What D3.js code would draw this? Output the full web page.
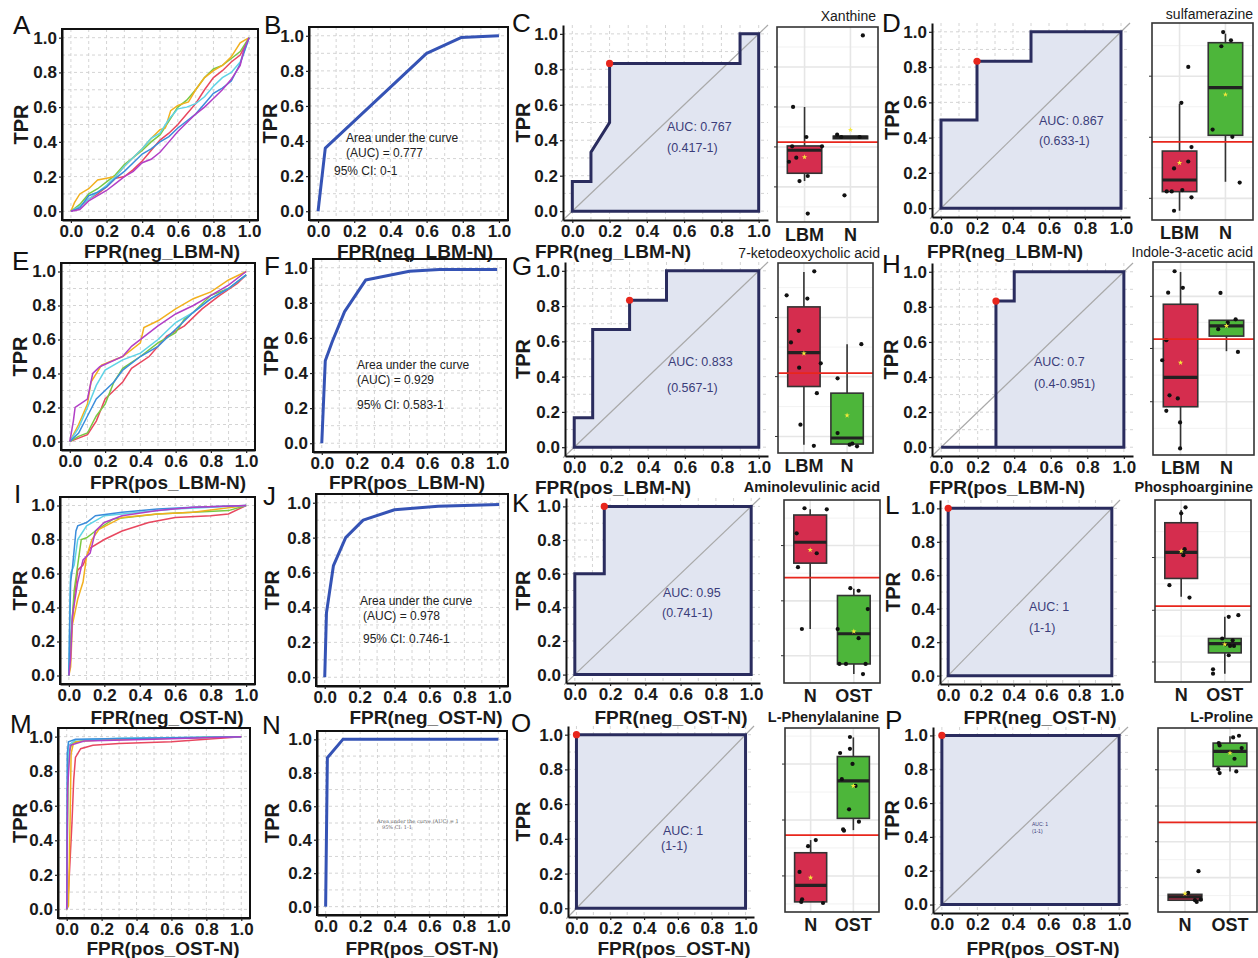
<!DOCTYPE html>
<html>
<head>
<meta charset="utf-8">
<script src="https://cdn.jsdelivr.net/npm/d3@7"></script>
<style>
  body { margin: 0; background: #fff; }
  svg { display: block; font-family: "Liberation Sans", Arial, Helvetica, sans-serif; }
</style>
</head>
<body>
<svg width="1258" height="958"></svg>
<script>
/* ----------------------------------------------------------
data
---------------------------------------------------------- */

var fprTicks = [0, 0.2, 0.4, 0.6, 0.8, 1.0];
var tprTicks = [0, 0.2, 0.4, 0.6, 0.8, 1.0];
var gridVals = [0, 0.1, 0.2, 0.3, 0.4, 0.5, 0.6, 0.7, 0.8, 0.9, 1.0];

// multi-model ROC curves, order: red, green, yellow, cyan, blue, purple
var curvesA = [
  [[0,0],[0.04,0.02],[0.1,0.07],[0.15,0.1],[0.2,0.14],[0.25,0.19],[0.3,0.2],[0.35,0.24],[0.4,0.29],[0.45,0.35],[0.5,0.41],[0.55,0.45],[0.6,0.5],[0.65,0.56],[0.7,0.62],[0.75,0.7],[0.8,0.77],[0.85,0.81],[0.9,0.86],[0.95,0.9],[1,1]],
  [[0,0],[0.05,0.04],[0.1,0.1],[0.15,0.13],[0.2,0.17],[0.25,0.21],[0.3,0.27],[0.35,0.31],[0.4,0.35],[0.45,0.4],[0.5,0.44],[0.55,0.52],[0.6,0.6],[0.65,0.64],[0.7,0.7],[0.75,0.77],[0.8,0.82],[0.85,0.84],[0.9,0.88],[0.95,0.92],[1,1]],
  [[0,0],[0.02,0.05],[0.05,0.1],[0.1,0.13],[0.15,0.18],[0.25,0.2],[0.3,0.26],[0.35,0.31],[0.4,0.36],[0.45,0.42],[0.5,0.47],[0.53,0.48],[0.56,0.58],[0.6,0.61],[0.66,0.63],[0.7,0.7],[0.75,0.77],[0.8,0.81],[0.85,0.84],[0.9,0.89],[0.95,0.97],[1,1]],
  [[0,0],[0.05,0.03],[0.1,0.07],[0.15,0.11],[0.2,0.15],[0.25,0.2],[0.3,0.26],[0.35,0.31],[0.4,0.36],[0.45,0.42],[0.5,0.45],[0.55,0.53],[0.6,0.59],[0.65,0.6],[0.7,0.62],[0.75,0.66],[0.8,0.72],[0.85,0.77],[0.9,0.8],[0.95,0.86],[1,1]],
  [[0,0],[0.05,0.02],[0.1,0.09],[0.15,0.11],[0.2,0.14],[0.25,0.19],[0.3,0.23],[0.35,0.28],[0.4,0.33],[0.45,0.36],[0.5,0.4],[0.55,0.43],[0.6,0.48],[0.65,0.52],[0.7,0.56],[0.75,0.62],[0.8,0.68],[0.85,0.71],[0.9,0.75],[0.95,0.85],[1,1]],
  [[0,0],[0.05,0.01],[0.1,0.06],[0.15,0.09],[0.2,0.12],[0.25,0.16],[0.3,0.2],[0.35,0.23],[0.4,0.28],[0.45,0.3],[0.5,0.34],[0.55,0.4],[0.6,0.46],[0.65,0.51],[0.7,0.56],[0.75,0.6],[0.8,0.65],[0.85,0.7],[0.9,0.76],[0.95,0.84],[0.97,0.93],[1,1]]
];
var curvesE = [
  [[0,0],[0.05,0.02],[0.1,0.04],[0.15,0.12],[0.2,0.25],[0.25,0.3],[0.3,0.35],[0.35,0.43],[0.45,0.5],[0.55,0.62],[0.65,0.68],[0.75,0.78],[0.85,0.86],[0.95,0.93],[1,0.98]],
  [[0,0],[0.05,0.03],[0.1,0.05],[0.15,0.15],[0.2,0.22],[0.25,0.35],[0.3,0.43],[0.4,0.5],[0.5,0.58],[0.6,0.64],[0.65,0.72],[0.7,0.76],[0.8,0.86],[0.9,0.9],[1,0.98]],
  [[0,0],[0.05,0.1],[0.1,0.22],[0.12,0.35],[0.18,0.45],[0.3,0.5],[0.4,0.58],[0.42,0.67],[0.5,0.71],[0.6,0.78],[0.7,0.84],[0.8,0.88],[0.9,0.95],[1,1]],
  [[0,0],[0.05,0.08],[0.1,0.2],[0.15,0.33],[0.2,0.42],[0.3,0.48],[0.4,0.52],[0.5,0.6],[0.6,0.7],[0.7,0.76],[0.8,0.84],[0.9,0.9],[1,0.98]],
  [[0,0],[0.05,0.05],[0.1,0.15],[0.15,0.25],[0.2,0.3],[0.25,0.35],[0.3,0.42],[0.4,0.5],[0.5,0.56],[0.6,0.66],[0.7,0.76],[0.8,0.84],[0.9,0.9],[1,0.98]],
  [[0,0],[0.02,0.12],[0.03,0.2],[0.1,0.25],[0.13,0.4],[0.17,0.44],[0.3,0.5],[0.35,0.56],[0.5,0.68],[0.6,0.75],[0.7,0.8],[0.8,0.86],[0.9,0.92],[1,1]]
];
var curvesI = [
  [[0,0],[0.01,0.2],[0.03,0.45],[0.05,0.62],[0.08,0.65],[0.12,0.75],[0.2,0.8],[0.3,0.85],[0.45,0.9],[0.6,0.93],[0.8,0.94],[0.9,0.95],[1,1]],
  [[0,0],[0.01,0.2],[0.03,0.5],[0.05,0.65],[0.07,0.8],[0.1,0.81],[0.15,0.85],[0.25,0.92],[0.5,0.95],[0.7,0.96],[0.9,0.97],[1,1]],
  [[0,0],[0.01,0.05],[0.02,0.3],[0.05,0.45],[0.08,0.55],[0.1,0.7],[0.13,0.8],[0.17,0.86],[0.3,0.93],[0.5,0.95],[0.7,0.96],[1,1]],
  [[0,0],[0.005,0.4],[0.01,0.6],[0.03,0.65],[0.05,0.8],[0.1,0.88],[0.2,0.94],[0.4,0.96],[0.6,0.98],[1,1]],
  [[0,0],[0.005,0.3],[0.01,0.55],[0.02,0.63],[0.04,0.85],[0.05,0.88],[0.1,0.9],[0.15,0.94],[0.3,0.96],[0.5,0.98],[0.7,0.99],[1,1]],
  [[0,0],[0.01,0.1],[0.02,0.35],[0.05,0.55],[0.08,0.68],[0.12,0.72],[0.15,0.85],[0.2,0.9],[0.3,0.94],[0.5,0.97],[0.7,0.99],[1,1]]
];
var curvesM = [
  [[0,0],[0.01,0.1],[0.02,0.3],[0.03,0.5],[0.04,0.75],[0.05,0.88],[0.08,0.93],[0.15,0.95],[0.3,0.96],[0.6,0.97],[1,1]],
  [[0,0],[0.005,0.5],[0.01,0.9],[0.03,0.96],[0.1,0.98],[0.3,0.985],[1,1]],
  [[0,0],[0.01,0.02],[0.02,0.55],[0.025,0.9],[0.04,0.97],[0.2,0.98],[0.6,0.99],[1,1]],
  [[0,0],[0.005,0.8],[0.01,0.95],[0.05,0.98],[0.3,0.99],[1,1]],
  [[0,0],[0.003,0.9],[0.01,0.97],[0.05,0.985],[1,1]],
  [[0,0],[0.005,0.7],[0.02,0.95],[0.1,0.975],[0.5,0.985],[1,1]]
];

// combined model ROC
var combB = [[0,0],[0.04,0.36],[0.6,0.9],[0.79,0.99],[1,1]];
var combF = [[0,0],[0.02,0.47],[0.06,0.58],[0.13,0.75],[0.25,0.93],[0.5,0.98],[0.67,0.99],[1,0.99]];
var combJ = [[0,0],[0.01,0.37],[0.05,0.64],[0.12,0.8],[0.22,0.9],[0.4,0.96],[0.65,0.98],[1,0.99]];
var combN = [[0,0],[0.01,0.89],[0.1,1],[1,1]];

// single-metabolite ROC steps, best threshold, AUC text
var stepC = [[0,0],[0,0.167],[0.1,0.167],[0.1,0.333],[0.2,0.5],[0.2,0.833],[0.9,0.833],[0.9,1],[1,1]];
var stepD = [[0,0],[0,0.5],[0.2,0.5],[0.2,0.833],[0.5,0.833],[0.5,1],[1,1]];
var stepG = [[0,0],[0,0.167],[0.1,0.167],[0.1,0.667],[0.3,0.667],[0.3,0.833],[0.5,0.833],[0.5,1],[1,1]];
var stepH = [[0,0],[0.3,0],[0.3,0.833],[0.4,0.833],[0.4,1],[1,1]];
var stepK = [[0,0],[0,0.6],[0.167,0.6],[0.167,1],[1,1]];
var stepL = [[0,0],[0,1],[1,1]];
var stepO = [[0,0],[0,1],[1,1]];
var stepP = [[0,0],[0,1],[1,1]];
var bestPts = {C:[0.2,0.833], D:[0.2,0.833], G:[0.3,0.833], H:[0.3,0.833], K:[0.167,1], L:[0,1], O:[0,1], P:[0,1]};
var aucText = {
  C:["AUC: 0.767","(0.417-1)"], D:["AUC: 0.867","(0.633-1)"],
  G:["AUC: 0.833","(0.567-1)"], H:["AUC: 0.7","(0.4-0.951)"],
  K:["AUC: 0.95","(0.741-1)"], L:["AUC: 1","(1-1)"],
  O:["AUC: 1","(1-1)"], P:["AUC: 1","(1-1)"]
};

// boxplots (relative level), point = [jitter, value]
var boxXanthine = [
  {group:"LBM", lo:0.21, q1:0.25, med:0.368, q3:0.39, hi:0.59, mean:0.333,
   pts:[[-0.25,0.59],[0.04,0.436],[-0.27,0.388],[0.38,0.388],[-0.18,0.33],[-0.34,0.309],[-0.11,0.21],[0.07,0.236],[0.07,0.043]]},
  {group:"N", lo:0.427, q1:0.427, med:0.435, q3:0.44, hi:0.44, mean:0.473,
   pts:[[0.27,0.957],[-0.29,0.448],[-0.2,0.436],[0.2,0.436],[-0.13,0.137]]}
];
var boxSulfa = [
  {group:"LBM", lo:0.047, q1:0.144, med:0.203, q3:0.35, hi:0.59, mean:0.29,
   pts:[[0.19,0.777],[0.04,0.595],[0.26,0.37],[0.19,0.297],[-0.12,0.262],[-0.28,0.145],[-0.17,0.145],[0.06,0.152],[0.26,0.115],[-0.12,0.047]]},
  {group:"N", lo:0.194, q1:0.43, med:0.672, q3:0.9, hi:0.946, mean:0.637,
   pts:[[-0.05,0.954],[0.12,0.912],[-0.09,0.882],[-0.28,0.459],[0.15,0.422],[0.31,0.19]]}
];
var boxKeto = [
  {group:"LBM", lo:0.044, q1:0.35, med:0.528, q3:0.769, hi:0.953, mean:0.524,
   pts:[[0.24,0.956],[-0.4,0.83],[0.08,0.813],[-0.12,0.643],[-0.3,0.582],[-0.11,0.449],[0.39,0.472],[0.3,0.315],[-0.08,0.149],[0.23,0.038]]},
  {group:"N", lo:0.047, q1:0.047, med:0.079, q3:0.315, hi:0.572, mean:0.198,
   pts:[[0.33,0.573],[-0.22,0.393],[-0.22,0.105],[0.06,0.044],[0.12,0.049],[0.23,0.035]]}
];
var boxIndole = [
  {group:"LBM", lo:0.034, q1:0.25, med:0.402, q3:0.781, hi:0.948, mean:0.478,
   pts:[[-0.13,0.952],[-0.27,0.841],[0.05,0.866],[-0.31,0.595],[-0.4,0.491],[-0.24,0.309],[-0.06,0.293],[-0.31,0.229],[-0.01,0.169],[-0.01,0.034]]},
  {group:"N", lo:0.538, q1:0.616, med:0.669, q3:0.698, hi:0.698, mean:0.669,
   pts:[[-0.13,0.84],[0.2,0.703],[0.03,0.686],[-0.18,0.652],[0.25,0.534]]}
];
var boxAmino = [
  {group:"N", lo:0.295, q1:0.655, med:0.769, q3:0.918, hi:0.949, mean:0.727,
   pts:[[-0.13,0.955],[0.38,0.949],[-0.31,0.818],[0.15,0.709],[-0.28,0.633],[-0.19,0.295]]},
  {group:"OST", lo:0.049, q1:0.104, med:0.269, q3:0.478, hi:0.515, mean:0.282,
   pts:[[-0.08,0.518],[0.11,0.504],[0.32,0.404],[-0.37,0.295],[0.11,0.245],[-0.33,0.104],[-0.18,0.104],[0.27,0.104],[0.21,0.049]]}
];
var boxPhospho = [
  {group:"N", lo:0.468, q1:0.569, med:0.712, q3:0.875, hi:0.945, mean:0.719,
   pts:[[0.1,0.96],[0,0.927],[0.08,0.73],[0.05,0.697],[-0.27,0.532],[0.19,0.464]]},
  {group:"OST", lo:0.046, q1:0.16, med:0.211, q3:0.239, hi:0.358, mean:0.207,
   pts:[[0.09,0.358],[0.31,0.367],[-0.06,0.239],[0.18,0.229],[0.02,0.207],[0.12,0.198],[0.21,0.198],[0.09,0.147],[-0.27,0.07],[-0.27,0.046]]}
];
var boxPhe = [
  {group:"N", lo:0.055, q1:0.055, med:0.145, q3:0.322, hi:0.391, mean:0.187,
   pts:[[0.12,0.391],[-0.06,0.358],[-0.26,0.218],[-0.2,0.069],[-0.22,0.055],[0.29,0.049]]},
  {group:"OST", lo:0.445, q1:0.509, med:0.713, q3:0.845, hi:0.949, mean:0.685,
   pts:[[-0.08,0.951],[-0.08,0.887],[-0.31,0.864],[-0.02,0.805],[-0.27,0.722],[0.05,0.685],[-0.1,0.558],[0.13,0.491],[-0.24,0.449],[-0.22,0.442]]}
];
var boxPro = [
  {group:"N", lo:0.064, q1:0.064, med:0.082, q3:0.096, hi:0.096, mean:0.1,
   pts:[[0.3,0.222],[0.07,0.104],[0.22,0.064],[0.26,0.055],[0.35,0.067]]},
  {group:"OST", lo:0.764, q1:0.791, med:0.873, q3:0.918, hi:0.955, mean:0.864,
   pts:[[0.07,0.949],[0.2,0.958],[-0.25,0.918],[-0.23,0.905],[0.26,0.891],[0.1,0.833],[-0.26,0.776],[-0.23,0.755],[0.14,0.764]]}
];
var ticksXanthine = [0.18, 0.385, 0.59, 0.795];
var ticksSulfa = [0.11, 0.42, 0.73];
var ticksKeto = [0.087, 0.402, 0.713];
var ticksIndole = [0.276, 0.552, 0.822];
var ticksAmino = [0.149, 0.449, 0.751];
var ticksPhospho = [0.11, 0.394, 0.684];
var ticksPhe = [0.196, 0.5, 0.804];
var ticksPro = [0.187, 0.382, 0.576, 0.773];
var cutoffs = {Xanthine:0.41, sulfamerazine:0.397, keto:0.42, indole:0.6, amino:0.576, phospho:0.417, phe:0.418, pro:0.487};

/* ----------------------------------------------------------
style / layout
---------------------------------------------------------- */

var lineColors = ["#e8475f", "#79c843", "#f2b01e", "#5fd3e6", "#3b8ddb", "#b23fc6"];
var boxFills = ["#d52d4e", "#4db63a"];

var multiPanels = [
  {letter:"A", frame:[62,29,258,220], curves:curvesA, xlab:"FPR(neg_LBM-N)", xlabAt:[162,258], ylabX:28, letterAt:[13,34]},
  {letter:"E", frame:[61,263,255,450], curves:curvesE, xlab:"FPR(pos_LBM-N)", xlabAt:[168,489], ylabX:27, letterAt:[12,270]},
  {letter:"I", frame:[60,497,255,684], curves:curvesI, xlab:"FPR(neg_OST-N)", xlabAt:[167,724], ylabX:27, letterAt:[14,503]},
  {letter:"M", frame:[58,728,250,918], curves:curvesM, xlab:"FPR(pos_OST-N)", xlabAt:[163,955], ylabX:27, letterAt:[10,733]}
];
var combPanels = [
  {letter:"B", frame:[309,27,508,220], curve:combB, xlab:"FPR(neg_LBM-N)", xlabAt:[415,258], ylabX:277, letterAt:[264,34], noteSize:12,
   notes:[[346,142,"Area under the curve"],[346,157,"(AUC) = 0.777"],[334,175,"95% CI: 0-1"]]},
  {letter:"F", frame:[313,259,506,452], curve:combF, xlab:"FPR(pos_LBM-N)", xlabAt:[407,489], ylabX:278, letterAt:[264,275], noteSize:12,
   notes:[[357,369,"Area under the curve"],[357,384,"(AUC) = 0.929"],[357,409,"95% CI: 0.583-1"]]},
  {letter:"J", frame:[316,494,508,686], curve:combJ, xlab:"FPR(neg_OST-N)", xlabAt:[426,724], ylabX:279, letterAt:[263,505], noteSize:12,
   notes:[[360,605,"Area under the curve"],[363,620,"(AUC) = 0.978"],[363,643,"95% CI: 0.746-1"]]},
  {letter:"N", frame:[317,731,507,915], curve:combN, xlab:"FPR(pos_OST-N)", xlabAt:[422,955], ylabX:279, letterAt:[262,734], noteSize:5, serif:true,
   notes:[[377,823,"Area under the curve (AUC) = 1"],[382,829,"95% CI: 1-1"]]}
];
var stepPanels = [
  {letter:"C", frame:[563,25,768,220], steps:stepC, xlab:"FPR(neg_LBM-N)", xlabAt:[613,258], ylabX:530, letterAt:[512,32], aucAt:[[667,131],[667,152]], aucSize:12.5},
  {letter:"D", frame:[932,23,1130,217], steps:stepD, xlab:"FPR(neg_LBM-N)", xlabAt:[1005,258], ylabX:899, letterAt:[882,32], aucAt:[[1039,125],[1039,145]], aucSize:12.5},
  {letter:"G", frame:[565,262,768,456], steps:stepG, xlab:"FPR(pos_LBM-N)", xlabAt:[613,494], ylabX:530, letterAt:[512,275], aucAt:[[668,366],[667,392]], aucSize:12.5},
  {letter:"H", frame:[932,263,1133,456], steps:stepH, xlab:"FPR(pos_LBM-N)", xlabAt:[1007,494], ylabX:898, letterAt:[882,273], aucAt:[[1034,366],[1034,388]], aucSize:12.5},
  {letter:"K", frame:[566,498,760,683], steps:stepK, xlab:"FPR(neg_OST-N)", xlabAt:[671,724], ylabX:530, letterAt:[512,512], aucAt:[[663,597],[662,617]], aucSize:12.5},
  {letter:"L", frame:[940,500,1120,684], steps:stepL, xlab:"FPR(neg_OST-N)", xlabAt:[1040,724], ylabX:900, letterAt:[885,514], aucAt:[[1029,611],[1029,632]], aucSize:12.5},
  {letter:"O", frame:[568,726,754,917], steps:stepO, xlab:"FPR(pos_OST-N)", xlabAt:[674,955], ylabX:530, letterAt:[511,732], aucAt:[[663,835],[661,850]], aucSize:12.5},
  {letter:"P", frame:[933,727,1128,913], steps:stepP, xlab:"FPR(pos_OST-N)", xlabAt:[1043,955], ylabX:899, letterAt:[885,729], aucAt:[[1032,826],[1032,833]], aucSize:5}
];
var boxPanels = [
  {title:"Xanthine", bold:false, frame:[777,27,878,222], titleAt:[876,21], boxes:boxXanthine, ticks:ticksXanthine, cut:cutoffs.Xanthine},
  {title:"sulfamerazine", bold:false, frame:[1152,23,1253,220], titleAt:[1253,19], boxes:boxSulfa, ticks:ticksSulfa, cut:cutoffs.sulfamerazine},
  {title:"7-ketodeoxycholic acid", bold:false, frame:[778,263,873,453], titleAt:[880,258], boxes:boxKeto, ticks:ticksKeto, cut:cutoffs.keto},
  {title:"Indole-3-acetic acid", bold:false, frame:[1153,262,1254,455], titleAt:[1253,257], boxes:boxIndole, ticks:ticksIndole, cut:cutoffs.indole},
  {title:"Aminolevulinic acid", bold:true, frame:[784,500,880,683], titleAt:[880,492], boxes:boxAmino, ticks:ticksAmino, cut:cutoffs.amino},
  {title:"Phosphoarginine", bold:true, frame:[1155,500,1251,682], titleAt:[1253,492], boxes:boxPhospho, ticks:ticksPhospho, cut:cutoffs.phospho},
  {title:"L-Phenylalanine", bold:true, frame:[785,728,879,912], titleAt:[879,722], boxes:boxPhe, ticks:ticksPhe, cut:cutoffs.phe},
  {title:"L-Proline", bold:true, frame:[1158,728,1257,912], titleAt:[1253,722], boxes:boxPro, ticks:ticksPro, cut:cutoffs.pro}
];

/* ----------------------------------------------------------
draw
---------------------------------------------------------- */

var svg = d3.select("svg");
var FONT = "'Liberation Sans', Arial, Helvetica, sans-serif";
var fmt = d3.format(".1f");

function scales(f) {
  return {
    x: d3.scaleLinear().domain([-0.05, 1.05]).range([f[0], f[2]]),
    y: d3.scaleLinear().domain([-0.05, 1.05]).range([f[3], f[1]])
  };
}

function letter(p) {
  svg.append("text").attr("x", p.letterAt[0]).attr("y", p.letterAt[1])
    .attr("font-size", 26).attr("fill", "#111").text(p.letter);
}

function grid(g, f, x, y) {
  g.append("g").selectAll("line").data(gridVals).join("line")
    .attr("x1", d => x(d)).attr("x2", d => x(d)).attr("y1", f[1]).attr("y2", f[3])
    .attr("stroke", "#cfcfcf").attr("stroke-width", 0.9).attr("stroke-dasharray", "3,3");
  g.append("g").selectAll("line").data(gridVals).join("line")
    .attr("y1", d => y(d)).attr("y2", d => y(d)).attr("x1", f[0]).attr("x2", f[2])
    .attr("stroke", "#cfcfcf").attr("stroke-width", 0.9).attr("stroke-dasharray", "3,3");
}

function axes(g, p, x, y) {
  var f = p.frame;
  var xa = g.append("g").attr("transform", "translate(0," + f[3] + ")")
    .call(d3.axisBottom(x).tickValues(fprTicks).tickFormat(fmt).tickSize(3).tickPadding(2).tickSizeOuter(0));
  var ya = g.append("g").attr("transform", "translate(" + f[0] + ",0)")
    .call(d3.axisLeft(y).tickValues(tprTicks).tickFormat(fmt).tickSize(3).tickPadding(2).tickSizeOuter(0));
  [xa, ya].forEach(function(a) {
    a.selectAll("text").attr("font-size", 17).attr("font-weight", "bold")
      .attr("fill", "#1a1a1a").attr("font-family", FONT);
    a.selectAll(".tick line").attr("stroke", "#222").attr("stroke-width", 1.2);
    a.select(".domain").attr("stroke", "#111").attr("stroke-width", 2);
  });
  g.append("text").attr("x", p.xlabAt[0]).attr("y", p.xlabAt[1]).attr("text-anchor", "middle")
    .attr("font-size", 19).attr("font-weight", "bold").attr("fill", "#1a1a1a").text(p.xlab);
  g.append("text").attr("transform", "translate(" + p.ylabX + "," + ((f[1] + f[3]) / 2) + ") rotate(-90)")
    .attr("text-anchor", "middle").attr("font-size", 20).attr("font-weight", "bold")
    .attr("fill", "#1a1a1a").text("TPR");
}

function frameRect(g, f) {
  g.append("rect").attr("x", f[0]).attr("y", f[1]).attr("width", f[2] - f[0]).attr("height", f[3] - f[1])
    .attr("fill", "none").attr("stroke", "#111").attr("stroke-width", 2);
}

// A E I M
multiPanels.forEach(function(p) {
  var s = scales(p.frame), g = svg.append("g");
  grid(g, p.frame, s.x, s.y);
  var line = d3.line().x(d => s.x(d[0])).y(d => s.y(d[1]));
  g.append("g").selectAll("path").data(p.curves).join("path")
    .attr("d", line).attr("fill", "none")
    .attr("stroke", (d, i) => lineColors[i]).attr("stroke-width", 1.5);
  frameRect(g, p.frame);
  axes(g, p, s.x, s.y);
  letter(p);
});

// B F J N
combPanels.forEach(function(p) {
  var s = scales(p.frame), g = svg.append("g");
  grid(g, p.frame, s.x, s.y);
  var line = d3.line().x(d => s.x(d[0])).y(d => s.y(d[1]));
  g.append("path").datum(p.curve).attr("d", line).attr("fill", "none")
    .attr("stroke", "#3553b5").attr("stroke-width", 3).attr("stroke-linejoin", "round");
  g.append("g").selectAll("text").data(p.notes).join("text")
    .attr("x", d => d[0]).attr("y", d => d[1]).text(d => d[2])
    .attr("font-size", p.noteSize).attr("fill", p.serif ? "#666" : "#222")
    .attr("font-family", p.serif ? "'DejaVu Serif', serif" : FONT);
  frameRect(g, p.frame);
  axes(g, p, s.x, s.y);
  letter(p);
});

// C D G H K L O P
stepPanels.forEach(function(p) {
  var s = scales(p.frame), g = svg.append("g");
  grid(g, p.frame, s.x, s.y);
  var poly = p.steps.concat([[1, 0], [0, 0]]);
  var line = d3.line().x(d => s.x(d[0])).y(d => s.y(d[1]));
  g.append("path").attr("d", line(poly) + "Z")
    .attr("fill", "#e1e5f1").attr("stroke", "none");
  g.append("line").attr("x1", s.x(-0.06)).attr("y1", s.y(-0.06)).attr("x2", s.x(1.05)).attr("y2", s.y(1.05))
    .attr("stroke", "#a9a9a9").attr("stroke-width", 1.2);
  g.append("path").attr("d", line(poly) + "Z").attr("fill", "none")
    .attr("stroke", "#2a2c5e").attr("stroke-width", 3).attr("stroke-linejoin", "miter");
  var b = bestPts[p.letter];
  g.append("circle").attr("cx", s.x(b[0])).attr("cy", s.y(b[1])).attr("r", 3.6).attr("fill", "#e8261c");
  g.append("g").selectAll("text").data(aucText[p.letter]).join("text")
    .attr("x", (d, i) => p.aucAt[i][0]).attr("y", (d, i) => p.aucAt[i][1])
    .attr("font-size", p.aucSize).attr("fill", "#3b3d7a").text(d => d);
  axes(g, p, s.x, s.y);
  letter(p);
});

// box plots
boxPanels.forEach(function(p) {
  var f = p.frame, g = svg.append("g");
  var x = d3.scalePoint().domain(p.boxes.map(b => b.group)).range([f[0], f[2]]).padding(0.6);
  var st = x.step(), bw = st * 0.75;
  var y = d3.scaleLinear().domain([0, 1]).range([f[3], f[1]]);
  var tk = p.ticks, dt = tk[1] - tk[0];
  var minors = [tk[0] - dt / 2].concat(d3.pairs(tk).map(q => (q[0] + q[1]) / 2), [tk[tk.length - 1] + dt / 2])
    .filter(v => v > 0 && v < 1);

  g.append("rect").attr("x", f[0]).attr("y", f[1]).attr("width", f[2] - f[0]).attr("height", f[3] - f[1]).attr("fill", "#fff");
  g.append("g").selectAll("line").data(minors).join("line")
    .attr("x1", f[0]).attr("x2", f[2]).attr("y1", d => y(d)).attr("y2", d => y(d))
    .attr("stroke", "#efefef").attr("stroke-width", 0.8);
  g.append("g").selectAll("line").data(tk).join("line")
    .attr("x1", f[0]).attr("x2", f[2]).attr("y1", d => y(d)).attr("y2", d => y(d))
    .attr("stroke", "#e6e6e6").attr("stroke-width", 1.6);
  g.append("g").selectAll("line").data(x.domain()).join("line")
    .attr("x1", d => x(d)).attr("x2", d => x(d)).attr("y1", f[1]).attr("y2", f[3])
    .attr("stroke", "#e6e6e6").attr("stroke-width", 1.6);

  var bx = g.append("g").selectAll("g").data(p.boxes).join("g");
  bx.append("line").attr("x1", d => x(d.group)).attr("x2", d => x(d.group))
    .attr("y1", d => y(d.hi)).attr("y2", d => y(d.q3)).attr("stroke", "#333").attr("stroke-width", 1.6);
  bx.append("line").attr("x1", d => x(d.group)).attr("x2", d => x(d.group))
    .attr("y1", d => y(d.q1)).attr("y2", d => y(d.lo)).attr("stroke", "#333").attr("stroke-width", 1.6);
  bx.append("rect").attr("x", d => x(d.group) - bw / 2).attr("width", bw)
    .attr("y", d => y(d.q3)).attr("height", d => Math.max(1, y(d.q1) - y(d.q3)))
    .attr("fill", (d, i) => boxFills[i]).attr("stroke", "#333").attr("stroke-width", 1.6);
  bx.append("line").attr("x1", d => x(d.group) - bw / 2).attr("x2", d => x(d.group) + bw / 2)
    .attr("y1", d => y(d.med)).attr("y2", d => y(d.med)).attr("stroke", "#222").attr("stroke-width", 3.2);

  g.append("line").attr("x1", f[0]).attr("x2", f[2]).attr("y1", y(p.cut)).attr("y2", y(p.cut))
    .attr("stroke", "#e8261c").attr("stroke-width", 1.8);

  bx.each(function(b) {
    d3.select(this).selectAll("circle").data(b.pts).join("circle")
      .attr("cx", d => x(b.group) + d[0] * st).attr("cy", d => y(d[1])).attr("r", 2.1).attr("fill", "#111");
  });
  bx.append("path").attr("d", d3.symbol(d3.symbolStar, 9))
    .attr("transform", d => "translate(" + x(d.group) + "," + y(d.mean) + ")").attr("fill", "#f4e83a");

  g.append("rect").attr("x", f[0]).attr("y", f[1]).attr("width", f[2] - f[0]).attr("height", f[3] - f[1])
    .attr("fill", "none").attr("stroke", "#333").attr("stroke-width", 1.6);
  g.append("g").selectAll("line").data(tk).join("line")
    .attr("x1", f[0] - 3).attr("x2", f[0]).attr("y1", d => y(d)).attr("y2", d => y(d))
    .attr("stroke", "#333").attr("stroke-width", 1);
  g.append("g").selectAll("text").data(x.domain()).join("text")
    .attr("x", d => x(d)).attr("y", f[3] + 19).attr("text-anchor", "middle")
    .attr("font-size", 18).attr("font-weight", "bold").attr("fill", "#1a1a1a").text(d => d);
  g.append("text").attr("x", p.titleAt[0]).attr("y", p.titleAt[1]).attr("text-anchor", "end")
    .attr("font-size", p.bold ? 14.5 : 14).attr("font-weight", p.bold ? "bold" : "normal")
    .attr("fill", "#1a1a1a").text(p.title);
});
</script>
</body>
</html>
